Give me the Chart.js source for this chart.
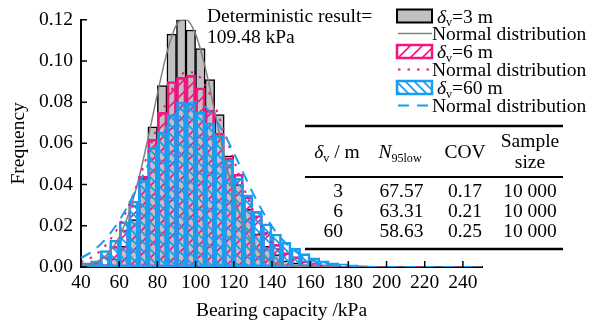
<!DOCTYPE html>
<html>
<head>
<meta charset="utf-8">
<script src="https://cdn.jsdelivr.net/npm/chart.js@4.4.1/dist/chart.umd.min.js"></script>
<style>
  body { margin: 0; background: #fff; }
</style>
</head>
<body>
<canvas id="chart" width="600" height="327"></canvas>
<script>
// histogram bin centres (kPa), bin width 5 kPa
var bins = [42.5, 47.5, 52.5, 57.5, 62.5, 67.5, 72.5, 77.5, 82.5, 87.5, 92.5, 97.5, 102.5, 107.5, 112.5,
  117.5, 122.5, 127.5, 132.5, 137.5, 142.5, 147.5, 152.5, 157.5, 162.5, 167.5, 172.5, 177.5, 182.5, 187.5, 192.5];

// relative frequency per bin, one list per scale of fluctuation
var freq3 = [null, 0.0005, 0.001, 0.004, 0.010, 0.023, 0.043, 0.068, 0.088, 0.113, 0.120, 0.115, 0.106, 0.091, 0.074,
  0.054, 0.040, 0.028, 0.016, 0.010, 0.006, 0.003, 0.002, 0.001, 0.0005, null, null, null, null, null, null];
var freq6 = [0.001, 0.002, 0.005, 0.010, 0.018, 0.030, 0.044, 0.062, 0.075, 0.090, 0.092, 0.093, 0.087, 0.076, 0.065,
  0.053, 0.045, 0.034, 0.025, 0.017, 0.011, 0.007, 0.005, 0.003, 0.002, 0.001, 0.0007, 0.0004, null, null, null];
var freq60 = [0.002, 0.003, 0.008, 0.013, 0.022, 0.032, 0.042, 0.058, 0.0655, 0.074, 0.080, 0.079, 0.075, 0.070, 0.064,
  0.052, 0.043, 0.035, 0.027, 0.021, 0.016, 0.012, 0.009, 0.0065, 0.0045, 0.003, 0.002, 0.0015, 0.001, 0.0007, 0.0005];

// normal distribution curves, sampled every 5 kPa from 40 to 250
var curveX = [40, 45, 50, 55, 60, 65, 70, 75, 80, 85, 90, 95, 100, 105, 110, 115, 120, 125, 130, 135, 140, 145,
  150, 155, 160, 165, 170, 175, 180, 185, 190, 195, 200, 205, 210, 215, 220, 225, 230, 235, 240, 245, 250];
var normal3 = [0.0006, 0.0015, 0.0034, 0.0074, 0.0145, 0.026, 0.042, 0.062, 0.084, 0.104, 0.1175, 0.120, 0.113,
  0.097, 0.0756, 0.054, 0.035, 0.0207, 0.0112, 0.0055, 0.0025, 0.001, 0.0004, 0.0001,
  0, 0, 0, 0, 0, 0, 0, 0, 0, 0, 0, 0, 0, 0, 0, 0, 0, 0, 0];
var normal6 = [0.0024, 0.0044, 0.0078, 0.0129, 0.020, 0.0297, 0.0416, 0.0549, 0.0684, 0.0807, 0.0899, 0.0946, 0.094,
  0.0883, 0.0784, 0.0658, 0.0521, 0.039, 0.0277, 0.0185, 0.0117, 0.007, 0.0039, 0.0021, 0.0011, 0.0005, 0.0002, 0.0001,
  0, 0, 0, 0, 0, 0, 0, 0, 0, 0, 0, 0, 0, 0, 0];
var normal60 = [0.0044, 0.0070, 0.0108, 0.016, 0.0225, 0.0305, 0.0397, 0.0495, 0.0592, 0.068, 0.0748, 0.079, 0.080,
  0.0776, 0.0723, 0.0646, 0.0554, 0.0456, 0.0359, 0.0272, 0.0197, 0.0137, 0.0092, 0.0059, 0.0036, 0.0021, 0.0012,
  0.0007, 0.0003, 0.0002, 0.0001, 0, 0, 0, 0, 0, 0, 0, 0, 0, 0, 0, 0];

var xTicks = [40, 60, 80, 100, 120, 140, 160, 180, 200, 220, 240];
var yTicks = [0, 0.02, 0.04, 0.06, 0.08, 0.10, 0.12];

// summary table
var tableDelta = ['3', '6', '60'];
var tableN95 = ['67.57', '63.31', '58.63'];
var tableCov = ['0.17', '0.21', '0.25'];
var tableSize = ['10 000', '10 000', '10 000'];
var deterministic = '109.48';

var FONT = "'Liberation Serif', 'Times New Roman', serif";
var FS = 19.5;
var PINK = '#ee1880';
var BLUE = '#179ef0';
var GRAY_FILL = '#c0c0c0';
var GRAY_LINE = '#808080';

function pts(xs, ys) {
  return xs.map(function (x, i) { return { x: x, y: ys[i] }; });
}

// diagonal hatch fill, "/" when forward, "\" otherwise
function hatch(color, size, width, forward) {
  var c = document.createElement('canvas');
  c.width = size;
  c.height = size;
  var g = c.getContext('2d');
  g.strokeStyle = color;
  g.lineWidth = width;
  g.beginPath();
  if (forward) {
    g.moveTo(0, size); g.lineTo(size, 0);
    g.moveTo(-2, 2); g.lineTo(2, -2);
    g.moveTo(size - 2, size + 2); g.lineTo(size + 2, size - 2);
  } else {
    g.moveTo(0, 0); g.lineTo(size, size);
    g.moveTo(size - 2, -2); g.lineTo(size + 2, 2);
    g.moveTo(-2, size - 2); g.lineTo(2, size + 2);
  }
  g.stroke();
  return g.createPattern(c, 'repeat');
}

// text made of pieces: {t, i (italic), sub (subscript)}
function setFont(ctx, p, size) {
  var s = p.sub ? size * 0.62 : size;
  ctx.font = (p.i ? 'italic ' : '') + s + 'px ' + FONT;
}
function richWidth(ctx, parts, size) {
  var w = 0;
  parts.forEach(function (p) { setFont(ctx, p, size); w += ctx.measureText(p.t).width; });
  return w;
}
function richText(ctx, parts, x, y, size, align) {
  var w = richWidth(ctx, parts, size);
  if (align === 'center') x -= w / 2;
  else if (align === 'right') x -= w;
  ctx.textAlign = 'left';
  ctx.textBaseline = 'alphabetic';
  parts.forEach(function (p) {
    setFont(ctx, p, size);
    ctx.fillText(p.t, x, y + (p.sub ? size * 0.18 : 0));
    x += ctx.measureText(p.t).width;
  });
}
function deltaLabel(val) {
  return [{ t: 'δ', i: true }, { t: 'v', sub: true }, { t: '=' + val + ' m' }];
}

var pinkHatch = hatch(PINK, 12, 1.6, true);
var blueHatch = hatch(BLUE, 9, 1.8, false);

// inward ticks, legend, annotation and the table
var extras = {
  id: 'extras',
  afterDraw: function (chart) {
    var ctx = chart.ctx;
    var xs = chart.scales.x, ys = chart.scales.y;
    ctx.save();

    ctx.strokeStyle = '#000';
    ctx.lineWidth = 1.5;
    ctx.beginPath();
    xTicks.forEach(function (v) {
      var px = xs.getPixelForValue(v);
      ctx.moveTo(px, ys.bottom);
      ctx.lineTo(px, ys.bottom - 6);
    });
    yTicks.forEach(function (v) {
      var py = ys.getPixelForValue(v);
      ctx.moveTo(xs.left, py);
      ctx.lineTo(xs.left + 6, py);
    });
    ctx.stroke();

    ctx.fillStyle = '#000';
    richText(ctx, [{ t: 'Deterministic result=' }], 207, 21.5, FS);
    richText(ctx, [{ t: deterministic + ' kPa' }], 207, 43, FS);

    // legend
    var ds = chart.data.datasets;
    var rows = [
      { d: ds[0], box: true, text: deltaLabel('3') },
      { d: ds[3], text: [{ t: 'Normal distribution' }] },
      { d: ds[1], box: true, text: deltaLabel('6') },
      { d: ds[4], text: [{ t: 'Normal distribution' }] },
      { d: ds[2], box: true, text: deltaLabel('60') },
      { d: ds[5], text: [{ t: 'Normal distribution' }] }
    ];
    var baselines = [22.5, 40, 58, 76, 94, 112];
    rows.forEach(function (r, i) {
      var cy = baselines[i] - 6.5;
      ctx.save();
      if (r.box) {
        ctx.fillStyle = r.d.backgroundColor;
        ctx.strokeStyle = r.d.borderColor;
        ctx.lineWidth = r.d.borderWidth + 0.5;
        ctx.fillRect(397, cy - 6.5, 35, 13);
        ctx.strokeRect(397, cy - 6.5, 35, 13);
      } else {
        ctx.strokeStyle = r.d.borderColor;
        ctx.lineWidth = r.d.borderWidth;
        ctx.setLineDash(r.d.borderDash || []);
        ctx.beginPath();
        ctx.moveTo(398, cy);
        ctx.lineTo(432, cy);
        ctx.stroke();
      }
      ctx.restore();
      ctx.fillStyle = '#000';
      richText(ctx, r.text, r.box ? 437 : 432, baselines[i], FS);
    });

    // table
    ctx.strokeStyle = '#000';
    ctx.lineWidth = 2.5;
    ctx.beginPath();
    ctx.moveTo(305, 126); ctx.lineTo(563, 126);
    ctx.moveTo(305, 249); ctx.lineTo(563, 249);
    ctx.stroke();
    ctx.lineWidth = 2;
    ctx.beginPath();
    ctx.moveTo(305, 177); ctx.lineTo(563, 177);
    ctx.stroke();

    ctx.fillStyle = '#000';
    richText(ctx, [{ t: 'δ', i: true }, { t: 'v', sub: true }, { t: ' / m' }], 337, 158, FS, 'center');
    richText(ctx, [{ t: 'N', i: true }, { t: '95low', sub: true }], 400, 158, FS, 'center');
    richText(ctx, [{ t: 'COV' }], 465, 158, FS, 'center');
    richText(ctx, [{ t: 'Sample' }], 530, 147, FS, 'center');
    richText(ctx, [{ t: 'size' }], 530, 168, FS, 'center');
    tableDelta.forEach(function (d, i) {
      var by = 196.5 + i * 20;
      richText(ctx, [{ t: d }], 343, by, FS, 'right');
      richText(ctx, [{ t: tableN95[i] }], 401.5, by, FS, 'center');
      richText(ctx, [{ t: tableCov[i] }], 465, by, FS, 'center');
      richText(ctx, [{ t: tableSize[i] }], 530, by, FS, 'center');
    });
    ctx.restore();
  }
};

var chart = new Chart(document.getElementById('chart'), {
  type: 'bar',
  data: {
    datasets: [
      { type: 'bar', data: pts(bins, freq3), backgroundColor: GRAY_FILL, borderColor: '#000', borderWidth: 1.5, order: 6 },
      { type: 'bar', data: pts(bins, freq6), backgroundColor: pinkHatch, borderColor: PINK, borderWidth: 2, order: 5 },
      { type: 'bar', data: pts(bins, freq60), backgroundColor: blueHatch, borderColor: BLUE, borderWidth: 2, order: 4 },
      { type: 'line', data: pts(curveX, normal3), borderColor: GRAY_LINE, borderWidth: 1.5, pointRadius: 0,
        cubicInterpolationMode: 'monotone', order: 3 },
      { type: 'line', data: pts(curveX, normal6), borderColor: PINK, borderWidth: 2, borderDash: [2.5, 7],
        pointRadius: 0, cubicInterpolationMode: 'monotone', order: 2 },
      { type: 'line', data: pts(curveX, normal60), borderColor: BLUE, borderWidth: 2, borderDash: [11, 8],
        pointRadius: 0, cubicInterpolationMode: 'monotone', order: 1 }
    ]
  },
  options: {
    responsive: false,
    animation: false,
    events: [],
    datasets: {
      bar: { grouped: false, barPercentage: 1, categoryPercentage: 1, borderSkipped: false }
    },
    layout: { padding: { top: 13, right: 118, left: 0, bottom: 0 } },
    plugins: { legend: { display: false }, tooltip: { enabled: false } },
    scales: {
      x: {
        type: 'linear', min: 40, max: 250, offset: false, z: 1,
        grid: { display: false, drawTicks: false },
        border: { color: '#000', width: 2 },
        afterBuildTicks: function (s) { s.ticks = xTicks.map(function (v) { return { value: v }; }); },
        afterFit: function (s) { s.height = 60; },
        ticks: { color: '#000', font: { family: FONT, size: FS }, padding: 4, maxRotation: 0, autoSkip: false },
        title: { display: true, text: 'Bearing capacity /kPa', color: '#000', font: { family: FONT, size: FS },
          padding: { top: 0, bottom: 4 } }
      },
      y: {
        min: 0, max: 0.12, z: 1,
        grid: { display: false, drawTicks: false },
        border: { color: '#000', width: 2 },
        afterBuildTicks: function (s) { s.ticks = yTicks.map(function (v) { return { value: v }; }); },
        afterFit: function (s) { s.width = 81; },
        ticks: { color: '#000', font: { family: FONT, size: FS }, padding: 8,
          callback: function (v) { return Number(v).toFixed(2); } },
        title: { display: true, text: 'Frequency', color: '#000', font: { family: FONT, size: FS },
          padding: { top: 7, bottom: 0 } }
      }
    }
  },
  plugins: [extras]
});
</script>
</body>
</html>
